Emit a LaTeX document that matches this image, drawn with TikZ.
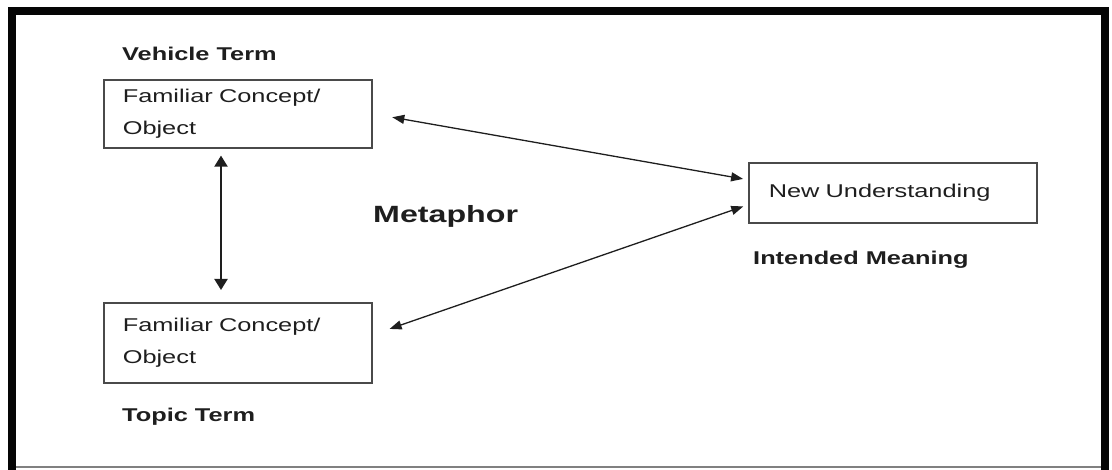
\documentclass[tikz,border=0pt]{standalone}
\usepackage{fontspec}
\setmainfont[FakeStretch=1.37]{Liberation Sans}
\usetikzlibrary{arrows.meta,positioning,calc}
\definecolor{cFrame}{HTML}{050505}
\definecolor{cBox}{HTML}{4A4A4A}
\definecolor{cText}{HTML}{1E1E1E}

\begin{document}
\begin{tikzpicture}[
    x=1pt, y=-1pt,
    font=\fontsize{18.5}{32}\selectfont,
    box/.style={draw=cBox, line width=1.6pt, align=left, anchor=north west, text width=230pt, inner xsep=19pt, inner ysep=0pt, text=cText},
    term/.style={font=\fontsize{18.5}{22}\selectfont\bfseries, anchor=base west, inner sep=0pt, text=cText},
    arr/.style={{Triangle[length=12pt,width=9pt]}-{Triangle[length=12pt,width=9pt]}, line width=1.3pt, draw=cText},
    varr/.style={{Triangle[length=11pt,width=13pt]}-{Triangle[length=11pt,width=13pt]}, line width=2pt, draw=cText}
]

\useasboundingbox (0,0) rectangle (1112,470);
\draw[cFrame, line width=8pt, line join=miter] (12,470) -- (12,11) -- (1104.5,11) -- (1104.5,470);
\draw[gray, line width=1.5pt] (16,467) -- (1101,467);

\node[box, minimum height=68pt] (vehicle) at (103,79) {Familiar Concept/\\Object};
\node[box, minimum height=80pt] (topic) at (103,302) {Familiar Concept/\\Object};
\node[box, text width=248pt, inner xsep=20pt, minimum height=60pt] (understand) at (748,162) {New Understanding};

\node[term] (vterm) at (122,61) {Vehicle Term};
\node[term] (tterm) at (122,421) {Topic Term};
\node[term] (iterm) at (753,265) {Intended Meaning};
\node[term, font=\fontsize{23.5}{28}\selectfont\bfseries] (metaphor) at (373,223) {Metaphor};

\draw[varr, shorten <=7pt, shorten >=12pt] ([xshift=118pt]vehicle.south west) -- ([xshift=118pt]topic.north west);
\draw[arr, shorten <=20pt, shorten >=5pt] (vehicle.east) -- ([yshift=13pt]understand.west);
\draw[arr, shorten <=18pt, shorten >=5pt] ([yshift=8pt]topic.east) -- ([yshift=-12pt]understand.west);

\end{tikzpicture}
\end{document}
